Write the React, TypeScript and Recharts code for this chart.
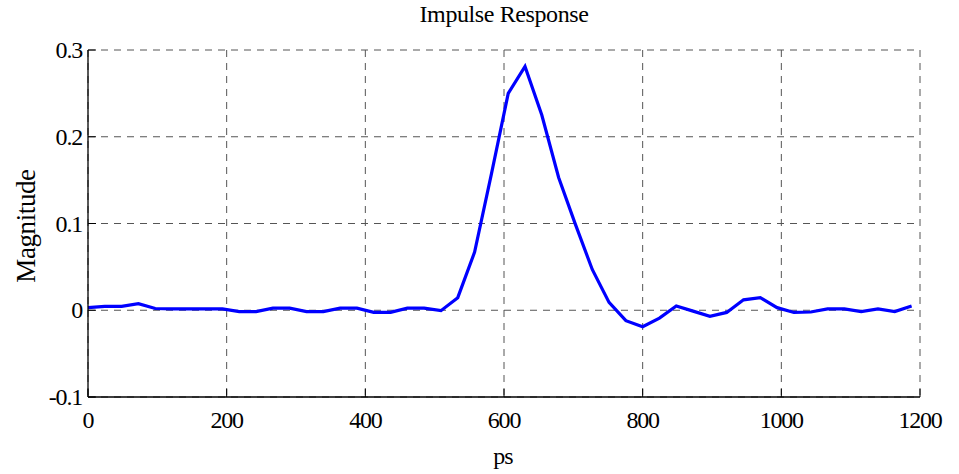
import React from 'react';
import { LineChart, Line, XAxis, YAxis, CartesianGrid } from 'recharts';

// Sample times (ps): one sample roughly every 24.24 ps
const times = [
  0, 24.2, 48.5, 72.7, 97.0, 121.2, 145.5, 169.7, 193.9, 218.2,
  242.4, 266.7, 290.9, 315.2, 339.4, 363.6, 387.9, 412.1, 436.4, 460.6,
  484.8, 509.1, 533.3, 557.6, 581.8, 606.1, 630.3, 654.5, 678.8, 703.0,
  727.3, 751.5, 775.8, 800.0, 824.2, 848.5, 872.7, 897.0, 921.2, 945.5,
  969.7, 993.9, 1018.2, 1042.4, 1066.7, 1090.9, 1115.2, 1139.4, 1163.6, 1187.9,
];

// Impulse response magnitude at each sample
const magnitude = [
  0.003, 0.0045, 0.0045, 0.0075, 0.002, 0.0015, 0.0015, 0.0015, 0.0015, -0.0015,
  -0.0015, 0.0025, 0.0025, -0.0015, -0.0015, 0.0025, 0.0025, -0.0025, -0.0025, 0.0025,
  0.0025, -0.0005, 0.0145, 0.067, 0.157, 0.25, 0.281, 0.225, 0.153, 0.099,
  0.047, 0.009, -0.012, -0.019, -0.009, 0.005, -0.001, -0.007, -0.0025, 0.012,
  0.0145, 0.003, -0.0025, -0.002, 0.0015, 0.0015, -0.0015, 0.0015, -0.0015, 0.005,
];

const xTicks = [0, 200, 400, 600, 800, 1000, 1200];
const yTicks = [-0.1, 0, 0.1, 0.2, 0.3];
const yTickLabels = ['-0.1', '0', '0.1', '0.2', '0.3'];

const titleText = 'Impulse Response';
const xLabel = 'ps';
const yLabel = 'Magnitude';

const data = times.map((t, i) => ({ t, m: magnitude[i] }));

const FONT = 'Liberation Serif, "Times New Roman", serif';
const tickFont = { fontFamily: FONT, fontSize: 24, letterSpacing: -1.2, fill: '#000' };
const TICK_LEN = 8;

const BottomTick = (props: any) => {
  const { x, y, payload } = props;
  return (
    <g>
      <line x1={x} x2={x} y1={y} y2={y - TICK_LEN} stroke="#000" strokeWidth={1} />
      <text x={x} y={y + 31} textAnchor="middle" style={tickFont}>
        {String(payload.value)}
      </text>
    </g>
  );
};

const LeftTick = (props: any) => {
  const { x, y, payload } = props;
  const idx = yTicks.findIndex((v) => Math.abs(v - payload.value) < 1e-9);
  const label = idx >= 0 ? yTickLabels[idx] : String(payload.value);
  return (
    <g>
      <line x1={x} x2={x + TICK_LEN} y1={y} y2={y} stroke="#000" strokeWidth={1} />
      <text x={x - 6} y={y + 8} textAnchor="end" style={tickFont}>
        {label}
      </text>
    </g>
  );
};

const TopTick = (props: any) => {
  const { x, y } = props;
  return <line x1={x} x2={x} y1={y} y2={y + TICK_LEN} stroke="#000" strokeWidth={1} />;
};

const RightTick = (props: any) => {
  const { x, y } = props;
  return <line x1={x} x2={x - TICK_LEN} y1={y} y2={y} stroke="#000" strokeWidth={1} />;
};

export default function App() {
  return (
    <div style={{ position: 'absolute', left: 0, top: 0, width: 959, height: 474, background: '#fff' }}>
      <LineChart
        width={959}
        height={474}
        data={data}
        margin={{ top: 50, right: 39, bottom: 0, left: 0 }}
      >
        <CartesianGrid stroke="#555" strokeDasharray="7 6" strokeWidth={1} />
        <XAxis
          dataKey="t"
          type="number"
          domain={[0, 1200]}
          ticks={xTicks}
          interval={0}
          height={77}
          tickSize={0}
          tickMargin={0}
          tickLine={false}
          axisLine={{ stroke: '#000', strokeWidth: 1.3 }}
          tick={<BottomTick />}
        />
        <XAxis
          xAxisId="top"
          orientation="top"
          dataKey="t"
          type="number"
          domain={[0, 1200]}
          ticks={xTicks}
          interval={0}
          height={0}
          tickSize={0}
          tickMargin={0}
          tickLine={false}
          axisLine={{ stroke: '#000', strokeWidth: 1.3 }}
          tick={<TopTick />}
        />
        <YAxis
          type="number"
          domain={[-0.1, 0.3]}
          ticks={yTicks}
          interval={0}
          width={88}
          tickSize={0}
          tickMargin={0}
          tickLine={false}
          axisLine={{ stroke: '#000', strokeWidth: 1.3 }}
          tick={<LeftTick />}
        />
        <YAxis
          yAxisId="right"
          orientation="right"
          type="number"
          domain={[-0.1, 0.3]}
          ticks={yTicks}
          interval={0}
          width={0}
          tickSize={0}
          tickMargin={0}
          tickLine={false}
          axisLine={{ stroke: '#000', strokeWidth: 1.3 }}
          tick={<RightTick />}
        />
        <Line
          type="linear"
          dataKey="m"
          stroke="#0000ff"
          strokeWidth={3.2}
          dot={false}
          activeDot={false}
          isAnimationActive={false}
        />
      </LineChart>
      <svg
        width={959}
        height={474}
        style={{ position: 'absolute', left: 0, top: 0, pointerEvents: 'none' }}
      >
        <text
          x={504}
          y={22}
          textAnchor="middle"
          style={{ fontFamily: FONT, fontSize: 24, letterSpacing: -0.4, fill: '#000' }}
        >
          {titleText}
        </text>
        <text
          x={503}
          y={464}
          textAnchor="middle"
          style={{ fontFamily: FONT, fontSize: 24, letterSpacing: -0.8, fill: '#000' }}
        >
          {xLabel}
        </text>
        <text
          x={35}
          y={226}
          textAnchor="middle"
          transform="rotate(-90 35 226)"
          style={{ fontFamily: FONT, fontSize: 27, letterSpacing: -0.4, fill: '#000' }}
        >
          {yLabel}
        </text>
      </svg>
    </div>
  );
}
